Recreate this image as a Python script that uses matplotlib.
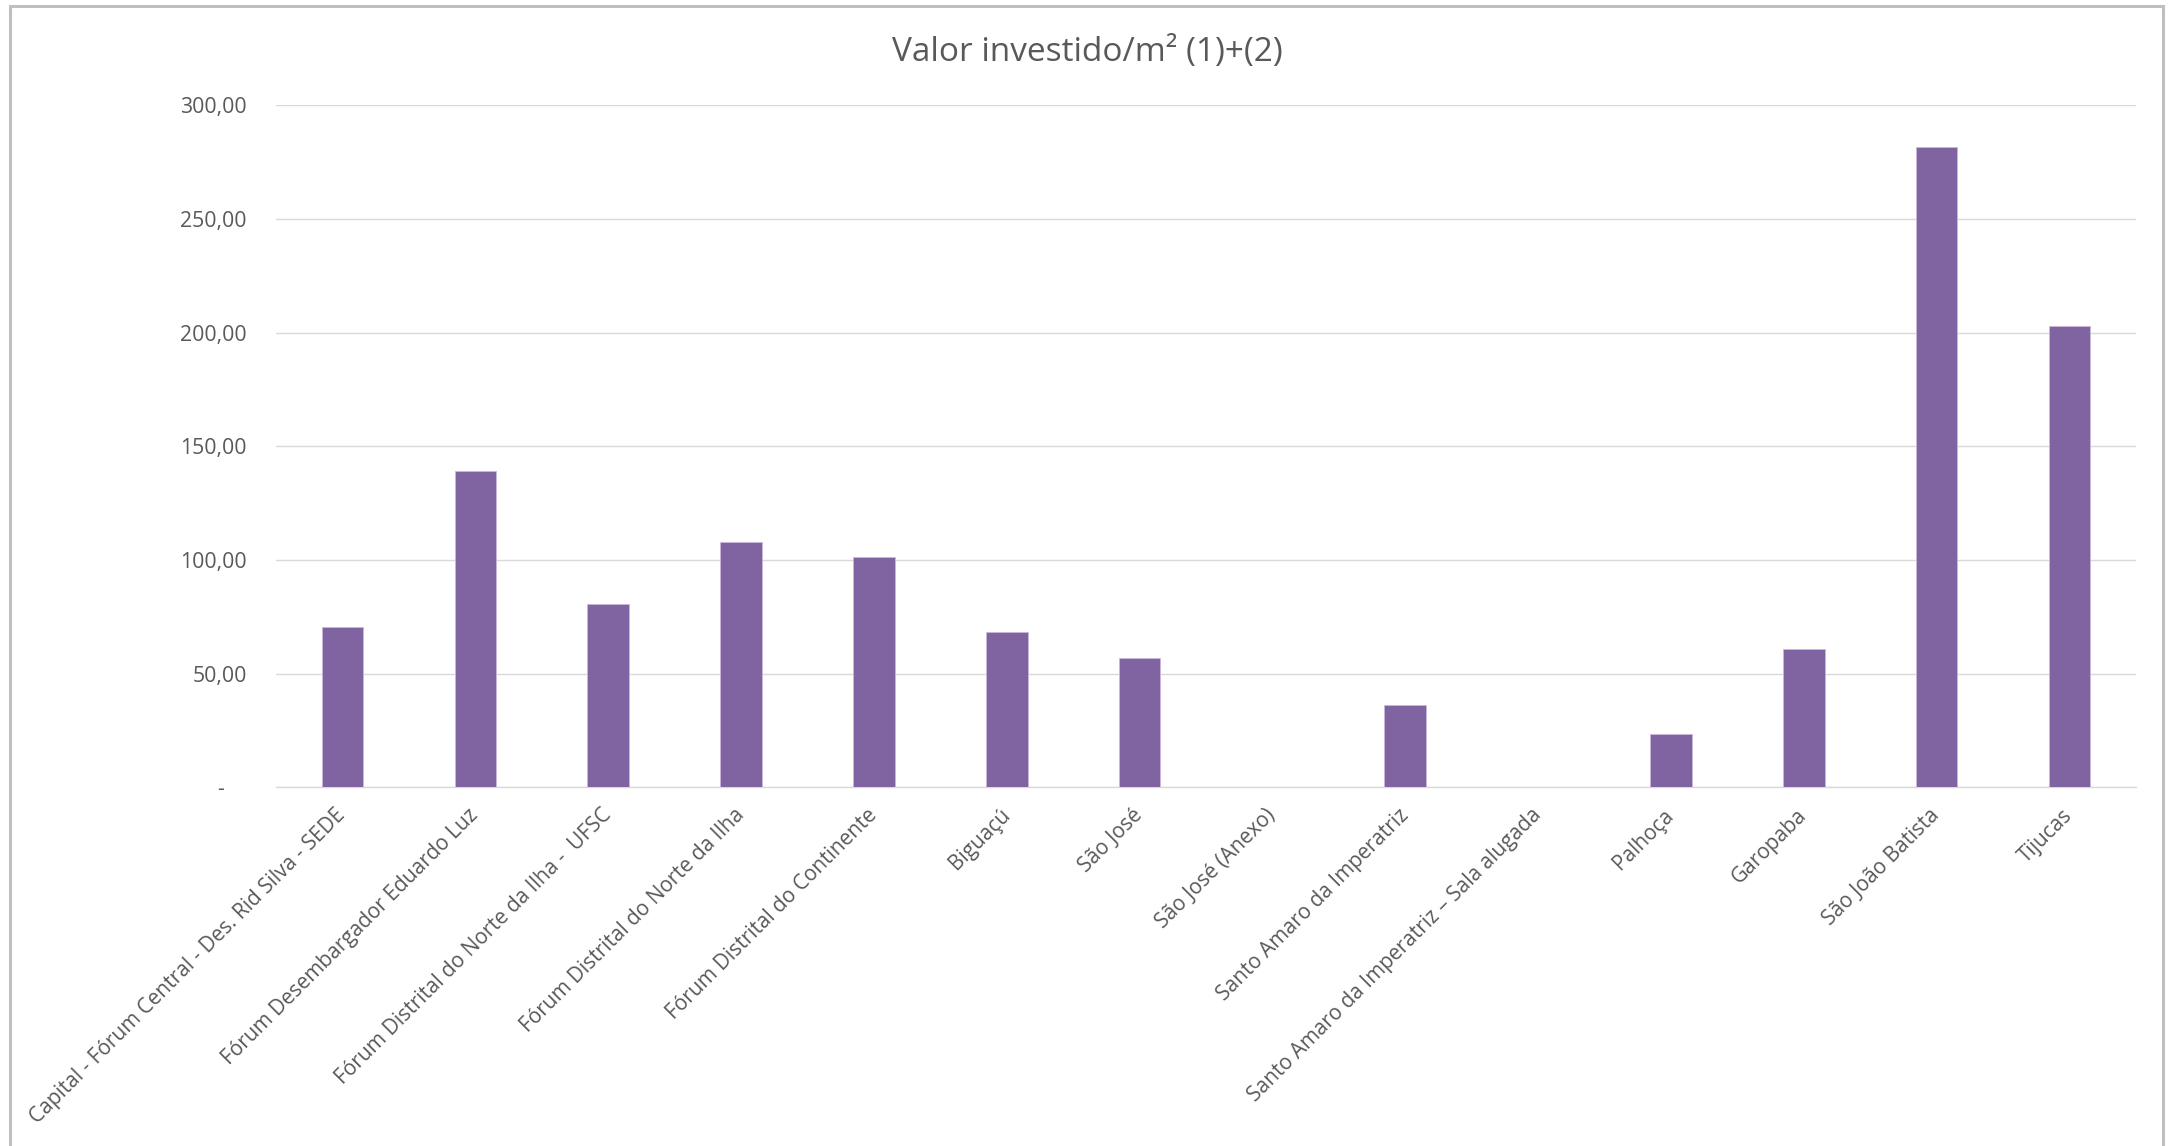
import matplotlib
matplotlib.use("Agg")
import matplotlib.pyplot as plt
from matplotlib.ticker import FuncFormatter
from matplotlib.patches import Rectangle
import numpy as np

plt.rcParams['font.family'] = ['Open Sans', 'DejaVu Sans']

categorias = [
    "Capital - Fórum Central - Des. Rid Silva - SEDE",
    "Fórum Desembargador Eduardo Luz",
    "Fórum Distrital do Norte da Ilha -  UFSC",
    "Fórum Distrital do Norte da Ilha",
    "Fórum Distrital do Continente",
    "Biguaçú",
    "São José",
    "São José (Anexo)",
    "Santo Amaro da Imperatriz",
    "Santo Amaro da Imperatriz – Sala alugada",
    "Palhoça",
    "Garopaba",
    "São João Batista",
    "Tijucas",
]
valores = [70.4, 139.1, 80.7, 107.9, 101.2, 68.3, 56.7, 0.0, 36.1, 0.0, 23.3, 61.0, 281.7, 203.0]
yticks = [0, 50, 100, 150, 200, 250, 300]

cinza = "#595959"
roxo = "#8064A2"

fig = plt.figure(figsize=(21.72, 11.46), dpi=100)
ax = fig.add_axes([0.1271, 0.3130, 0.9834 - 0.1271, 0.9081 - 0.3130])

x = np.arange(len(categorias))
ax.bar(x, valores, width=0.313, color=roxo, edgecolor="#C9B8DA", linewidth=0.6, zorder=3)

ax.set_xlim(-0.5, len(categorias) - 0.5)
ax.set_ylim(0, 300)
ax.set_yticks(yticks)

def fmt(v, pos):
    if v == 0:
        return "-    "
    return f"{v:,.2f}".replace(",", "X").replace(".", ",").replace("X", ".")

ax.yaxis.set_major_formatter(FuncFormatter(fmt))
ax.grid(axis="y", color="#D9D9D9", linewidth=1.0, zorder=0)
for s in ["top", "right", "left"]:
    ax.spines[s].set_visible(False)
ax.spines["bottom"].set_color("#D9D9D9")
ax.spines["bottom"].set_linewidth(1.0)

ax.tick_params(axis="y", length=0, pad=21, labelsize=15.3, labelcolor=cinza)
ax.tick_params(axis="x", length=0, pad=18, labelsize=15, labelcolor=cinza)
ax.set_xticks(x)
ax.set_xticklabels(categorias, rotation=45, ha="right", va="center", rotation_mode="anchor")

fig.text(0.5 * (893 + 1282) / 2172, 1 - 53 / 1146, "Valor investido/m² (1)+(2)",
         ha="center", va="center", fontsize=24, color=cinza)

borda = Rectangle((10 / 2172, -0.05), (2163 - 10) / 2172, 1 + 0.05 - 6 / 1146,
                  transform=fig.transFigure, fill=False, edgecolor="#BFBFBF", linewidth=2.2)
fig.patches.append(borda)

fig.savefig("out.png", dpi=100)
